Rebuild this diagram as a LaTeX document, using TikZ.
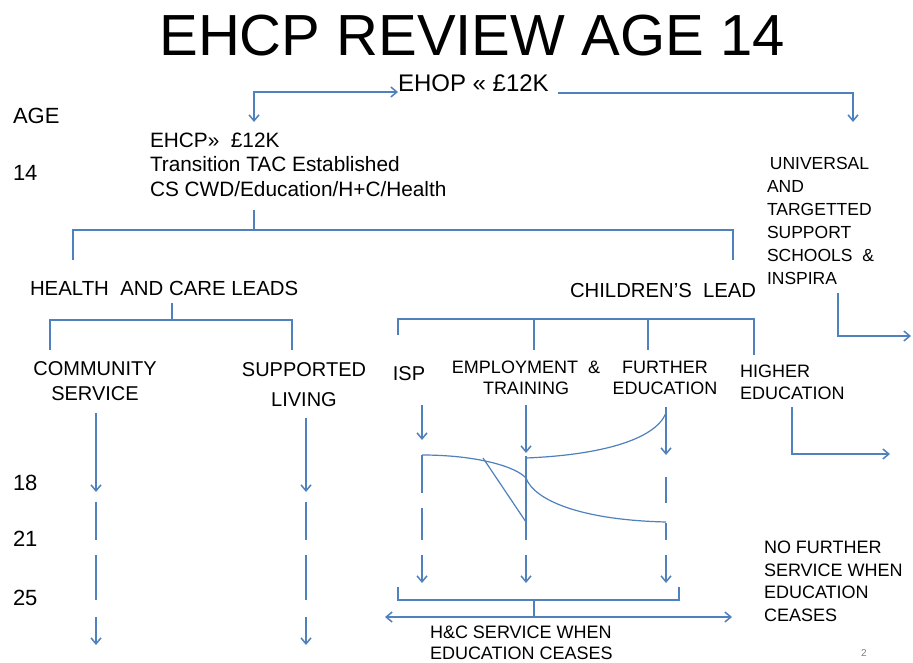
\documentclass[tikz,border=0pt]{standalone}
\usepackage{fontspec}
\setmainfont{Liberation Sans}
\usetikzlibrary{arrows.meta}
\definecolor{lblue}{RGB}{79,129,189}
\newcommand{\fsz}[2]{\fontsize{#1}{#2}\selectfont}
\begin{document}
\begin{tikzpicture}[x=1pt,y=-1pt,
  lbl/.style={inner sep=0pt,outer sep=0pt,text=black},
  ln/.style={draw=lblue,line width=1.5pt},
  arr/.style={ln,-{Straight Barb[length=6pt,width=10pt]}},
  darr/.style={ln,{Straight Barb[length=6pt,width=10pt]}-{Straight Barb[length=6pt,width=10pt]}}]
\useasboundingbox[fill=white] (0,0) rectangle (913,663);
% texts (base anchor of a multi-line node = baseline of its last line)
\node[lbl,anchor=center,font=\fsz{58}{60}] (title) at (472,36) {EHCP REVIEW AGE 14};
\node[lbl,anchor=base west,font=\fsz{24}{28}] (ehop) at (398,92) {EHOP « £12K};
\node[lbl,anchor=base west,font=\fsz{22}{26}] (age) at (13,124) {AGE};
\node[lbl,anchor=base west,font=\fsz{22}{26}] (a14) at (13,181) {14};
\node[lbl,anchor=base west,font=\fsz{22}{26}] (a18) at (13,490) {18};
\node[lbl,anchor=base west,font=\fsz{22}{26}] (a21) at (13,546) {21};
\node[lbl,anchor=base west,font=\fsz{22}{26}] (a25) at (13,605) {25};
\node[lbl,anchor=base west,align=left,font=\fsz{20.8}{25}] (ehcp) at (150,197) {EHCP» \ £12K\\Transition TAC Established\\CS CWD/Education/H+C/Health};
\node[lbl,anchor=base west,font=\fsz{20.4}{24}] (hc) at (30,295) {HEALTH \ AND CARE LEADS};
\node[lbl,anchor=base west,font=\fsz{20.3}{24}] (cl) at (570,297) {CHILDREN’S \ LEAD};
\node[lbl,anchor=base,align=center,font=\fsz{20}{25}] (comm) at (95,400) {COMMUNITY\\SERVICE};
\node[lbl,anchor=base,align=center,font=\fsz{20}{30}] (supp) at (304,406) {SUPPORTED\\LIVING};
\node[lbl,anchor=base,font=\fsz{20}{24}] (isp) at (409,380) {ISP};
\node[lbl,anchor=base,align=center,font=\fsz{18}{21}] (emp) at (526,394.5) {EMPLOYMENT \ \&\\TRAINING};
\node[lbl,anchor=base,align=center,font=\fsz{18}{21}] (fe) at (665,394.5) {FURTHER\\EDUCATION};
\node[lbl,anchor=base west,align=left,font=\fsz{18}{22}] (he) at (740,399) {HIGHER\\EDUCATION};
\node[lbl,anchor=base west,align=left,font=\fsz{17.5}{23}] (univ) at (767,284.5) {\,UNIVERSAL\\AND\\TARGETTED\\SUPPORT\\SCHOOLS \ \&\\INSPIRA};
\node[lbl,anchor=base west,align=left,font=\fsz{18}{22.5}] (nof) at (764,621) {NO FURTHER\\SERVICE WHEN\\EDUCATION\\CEASES};
\node[lbl,anchor=base west,align=left,font=\fsz{18}{21}] (hcs) at (430,659.5) {H\&C SERVICE WHEN\\EDUCATION CEASES};
\node[lbl,anchor=base,font=\fsz{10}{12},text=gray] (pg) at (864,656) {2};
% coordinates
\coordinate (ehcpTop) at (254,122);
\coordinate (ehopR) at (558,93);
\coordinate (univTop) at (853,122);
\coordinate (ehcpBot) at (254,210);
\coordinate (b1) at (254,230);
\coordinate (b1L) at (73,260);
\coordinate (b1R) at (733,260);
\coordinate (hcBot) at (172,303);
\coordinate (b2) at (172,320);
\coordinate (b2L) at (50,350);
\coordinate (b2R) at (292,350);
\coordinate (b3) at (576,319);
\coordinate (b3a) at (398,335);
\coordinate (b3b) at (534,350);
\coordinate (b3c) at (648,350);
\coordinate (b3d) at (754,355);
\coordinate (univBot) at (838,293);
\coordinate (univEnd) at (911,336);
\coordinate (heBot) at (792,407);
\coordinate (heEnd) at (890,454);
% top connectors
\draw[darr] (ehcpTop) |- (ehop.base west);
\draw[arr] (ehopR) -| (univTop);
\draw[ln] (ehcpBot) -- (b1);
\draw[ln] (b1L) |- (b1) -| (b1R);
\draw[ln] (hcBot) -- (b2);
\draw[ln] (b2L) |- (b2) -| (b2R);
\draw[ln] (b3a) |- (b3) -| (b3d);
\draw[ln] (b3b) -- (b3b |- b3);
\draw[ln] (b3c) -- (b3c |- b3);
\draw[arr] (univBot) |- (univEnd);
\draw[arr] (heBot) |- (heEnd);
% community / supported living columns
\foreach \x/\t in {96/413,306/418}{
  \draw[arr] (\x,\t) -- (\x,492);
  \draw[ln] (\x,502) -- (\x,540);
  \draw[ln] (\x,555) -- (\x,600);
  \draw[arr] (\x,617) -- (\x,645);
}
% ISP column
\draw[arr] (422,405) -- (422,440);
\draw[ln] (422,455) -- (422,493);
\draw[ln] (422,508) -- (422,540);
\draw[arr] (422,555) -- (422,583);
% employment column
\draw[arr] (526,405) -- (526,453);
\draw[ln] (526,456) -- (526,540);
\draw[arr] (526,555) -- (526,583);
% further education column
\draw[arr] (666,407) -- (666,455);
\draw[ln] (666,477) -- (666,503);
\draw[ln] (666,523) -- (666,540);
\draw[arr] (666,555) -- (666,583);
% curves
\draw[ln,line width=1.2pt] (526,458) .. controls (600,455) and (655,440) .. (666,413);
\draw[ln,line width=1.2pt] (422,455) .. controls (475,455) and (515,466) .. (526,478) .. controls (534,500) and (580,520) .. (666,522);
\draw[ln,line width=1.2pt] (483,458) -- (526,522);
% bottom bracket
\draw[ln] (398,587) |- (679,600) -- (679,587);
\draw[ln] (534,600) -- (534,617);
\draw[darr] (385,617) -- (732,617);
\end{tikzpicture}
\end{document}
